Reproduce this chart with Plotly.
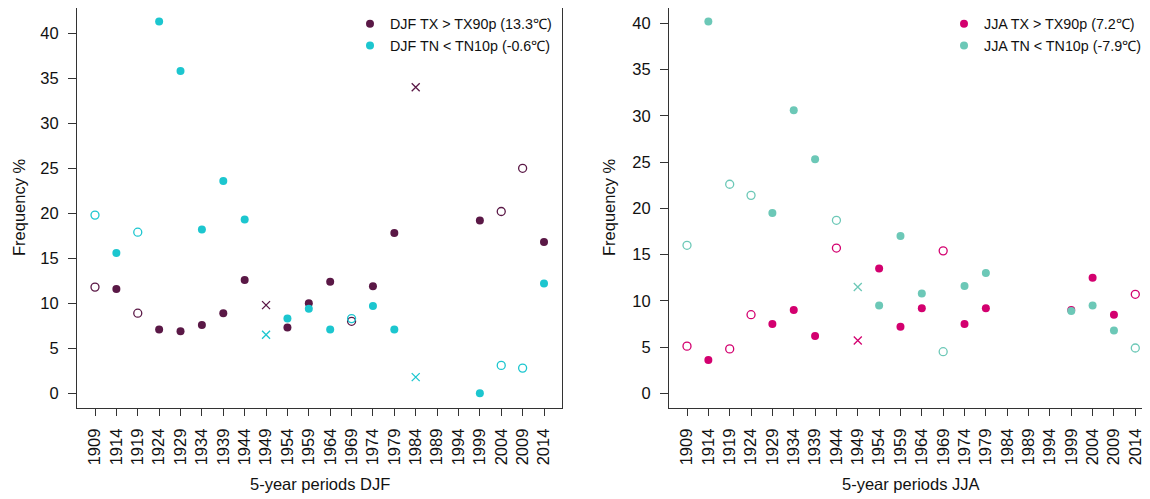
import plotly.graph_objects as go

periods = ["1909", "1914", "1919", "1924", "1929", "1934", "1939", "1944", "1949", "1954", "1959",
           "1964", "1969", "1974", "1979", "1984", "1989", "1994", "1999", "2004", "2009", "2014"]

# DJF panel values (None = missing); kind: f = filled, o = open, x = cross
djf_tx = [11.8, 11.6, 8.9, 7.1, 6.9, 7.6, 8.9, 12.6, 9.8, 7.3, 10.0,
          12.4, 8.0, 11.9, 17.8, 34.0, None, None, 19.2, 20.2, 25.0, 16.8]
djf_tx_kind = ["o", "f", "o", "f", "f", "f", "f", "f", "x", "f", "f",
               "f", "o", "f", "f", "x", None, None, "f", "o", "o", "f"]
djf_tn = [19.8, 15.6, 17.9, 41.3, 35.8, 18.2, 23.6, 19.3, 6.5, 8.3, 9.4,
          7.1, 8.3, 9.7, 7.1, 1.8, None, None, 0.0, 3.1, 2.8, 12.2]
djf_tn_kind = ["o", "f", "o", "f", "f", "f", "f", "f", "x", "f", "f",
               "f", "o", "f", "f", "x", None, None, "f", "o", "o", "f"]

# JJA panel
jja_tx = [5.1, 3.6, 4.8, 8.5, 7.5, 9.0, 6.2, 15.7, 5.7, 13.5, 7.2,
          9.2, 15.4, 7.5, 9.2, None, None, None, 9.0, 12.5, 8.5, 10.7]
jja_tx_kind = ["o", "f", "o", "o", "f", "f", "f", "o", "x", "f", "f",
               "f", "o", "f", "f", None, None, None, "f", "f", "f", "o"]
jja_tn = [16.0, 40.2, 22.6, 21.4, 19.5, 30.6, 25.3, 18.7, 11.5, 9.5, 17.0,
          10.8, 4.5, 11.6, 13.0, None, None, None, 8.9, 9.5, 6.8, 4.9]
jja_tn_kind = ["o", "f", "o", "o", "f", "f", "f", "o", "x", "f", "f",
               "f", "o", "f", "f", None, None, None, "f", "f", "f", "o"]

y_ticks = [0, 5, 10, 15, 20, 25, 30, 35, 40]

names = {
    "djf_tx": "DJF TX > TX90p (13.3\u2103)",
    "djf_tn": "DJF TN < TN10p (-0.6\u2103)",
    "jja_tx": "JJA TX > TX90p (7.2\u2103)",
    "jja_tn": "JJA TN < TN10p (-7.9\u2103)",
}

C_DJF_TX = "#5a1846"
C_DJF_TN = "#1cc6cf"
C_JJA_TX = "#d3006f"
C_JJA_TN = "#6cc8b7"

FONT = "Liberation Sans, Arial, Helvetica, sans-serif"
FS = 16.5
FS_LEG = 14.3

fig = go.Figure()

idx = list(range(len(periods)))


def add_series(vals, kinds, color, name, xa, ya, legend):
    styles = {
        "f": dict(symbol="circle", size=8, color=color, line=dict(width=0)),
        "o": dict(symbol="circle-open", size=8, color=color, line=dict(width=1.3)),
        "x": dict(symbol="x-thin-open", size=8, color=color, line=dict(width=1.3, color=color)),
    }
    for k in ["f", "o", "x"]:
        xs = [i for i in idx if kinds[i] == k and vals[i] is not None]
        ys = [vals[i] for i in xs]
        fig.add_trace(go.Scatter(
            x=xs, y=ys, mode="markers", marker=styles[k], name=name,
            showlegend=(k == "f"), xaxis=xa, yaxis=ya, legend=legend,
            hoverinfo="skip"))


add_series(djf_tx, djf_tx_kind, C_DJF_TX, names["djf_tx"], "x", "y", "legend")
add_series(djf_tn, djf_tn_kind, C_DJF_TN, names["djf_tn"], "x", "y", "legend")
add_series(jja_tx, jja_tx_kind, C_JJA_TX, names["jja_tx"], "x2", "y2", "legend2")
add_series(jja_tn, jja_tn_kind, C_JJA_TN, names["jja_tn"], "x2", "y2", "legend2")

W, H = 1150, 499
OX, OY = 8, 8  # page body margin offset


def px(p):
    return min(1.0, max(0.0, (p - OX) / W))


def py(p):
    return min(1.0, max(0.0, 1 - (p - OY) / H))


top, bottom = 8, 408
ydom = [py(bottom), py(top)]

axis_common = dict(showgrid=False, zeroline=False, showline=True, linecolor="#333333",
                   linewidth=1, ticks="outside", tickcolor="#333333",
                   tickfont=dict(family=FONT, size=FS, color="#111111"))

# left panel: 1909 at px 95, 2014 at px 544, frame 77..562
lp_unit = (544 - 95) / 21
fig.update_layout(
    xaxis=dict(domain=[px(77), px(562)], range=[-(95 - 77) / lp_unit, 21 + (562 - 544) / lp_unit],
               tickmode="array", tickvals=idx, ticktext=periods, tickangle=-90, ticklen=7,
               mirror=True, anchor="y", ticklabelstandoff=6, **axis_common),
    yaxis=dict(domain=ydom, range=[-(bottom - 393.3) / 9.0, (393.3 - top) / 9.0],
               tickmode="array", tickvals=y_ticks, ticklen=8, mirror=True, anchor="x",
               ticklabelstandoff=6, **axis_common),
)

rp_unit = (1135.3 - 687) / 21
fig.update_layout(
    xaxis2=dict(domain=[px(669), px(1153)], range=[-(687 - 669) / rp_unit, 21 + (1153 - 1135.3) / rp_unit],
                tickmode="array", tickvals=idx, ticktext=periods, tickangle=-90, ticklen=7,
                mirror=True, anchor="y2", ticklabelstandoff=6, **axis_common),
    yaxis2=dict(domain=ydom, range=[-(bottom - 393.3) / 9.25, (393.3 - top) / 9.25],
                tickmode="array", tickvals=y_ticks, ticklen=8, mirror=True, anchor="x2",
                ticklabelstandoff=6, **axis_common),
)

legend_common = dict(font=dict(family=FONT, size=FS_LEG, color="#111111"), bgcolor="rgba(0,0,0,0)",
                     xanchor="left", yanchor="top", itemwidth=30, tracegroupgap=0,
                     itemclick=False, itemdoubleclick=False)

fig.update_layout(
    legend=dict(x=px(350), y=py(8), **legend_common),
    legend2=dict(x=px(944), y=py(8), **legend_common),
    width=W, height=H, margin=dict(l=0, r=0, t=0, b=0),
    paper_bgcolor="white", plot_bgcolor="white",
    font=dict(family=FONT, size=FS, color="#111111"),
    annotations=[
        dict(text="Frequency %", x=px(19), y=py(207), xref="paper", yref="paper",
             xanchor="center", yanchor="middle",
             textangle=-90, showarrow=False, font=dict(family=FONT, size=FS)),
        dict(text="Frequency %", x=px(609), y=py(207), xref="paper", yref="paper",
             xanchor="center", yanchor="middle",
             textangle=-90, showarrow=False, font=dict(family=FONT, size=FS)),
        dict(text="5-year periods DJF", x=px(319.5), y=py(484), xref="paper", yref="paper",
             xanchor="center", yanchor="middle",
             showarrow=False, font=dict(family=FONT, size=FS)),
        dict(text="5-year periods JJA", x=px(911), y=py(484), xref="paper", yref="paper",
             xanchor="center", yanchor="middle",
             showarrow=False, font=dict(family=FONT, size=FS)),
    ],
)

fig.write_html("out.html")
